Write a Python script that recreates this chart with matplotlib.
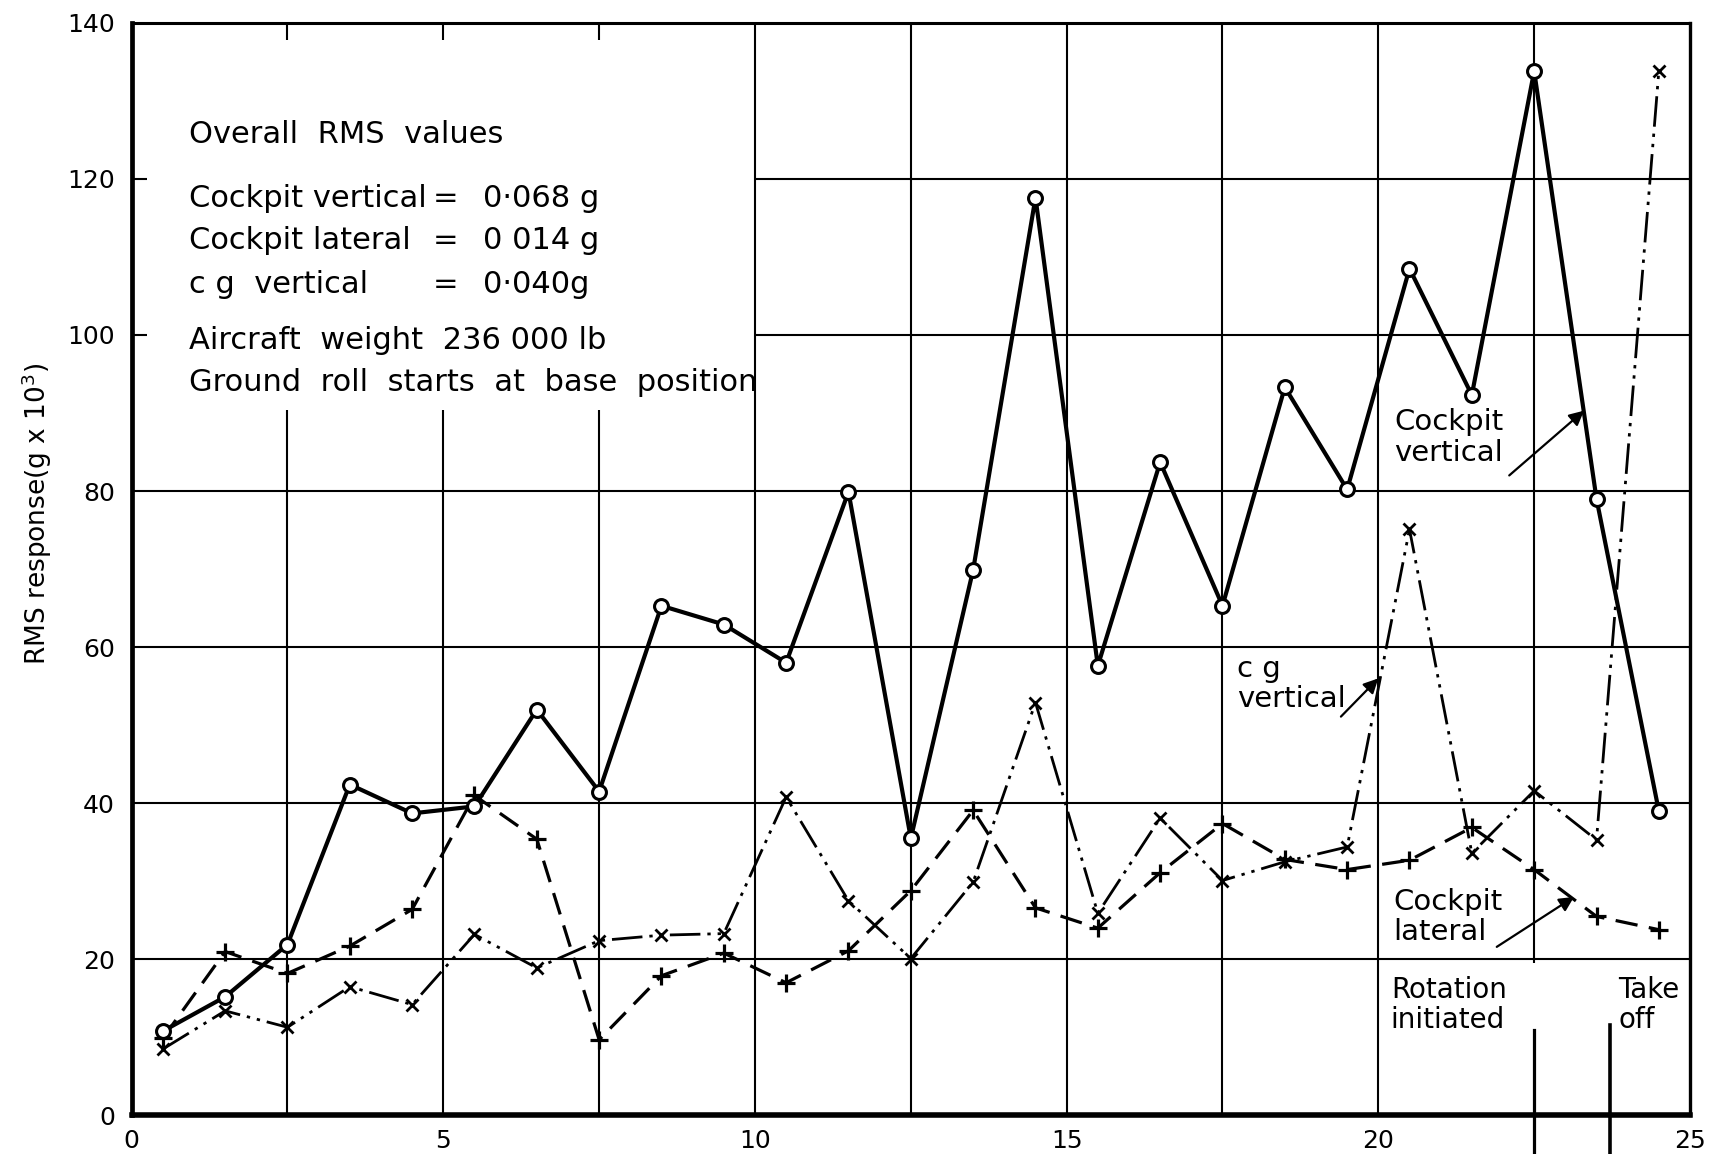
import matplotlib.pyplot as plt
import numpy as np

# ground roll positions (centre of each analysis segment)
position = [0.5, 1.5, 2.5, 3.5, 4.5, 5.5, 6.5, 7.5, 8.5, 9.5, 10.5, 11.5, 12.5,
            13.5, 14.5, 15.5, 16.5, 17.5, 18.5, 19.5, 20.5, 21.5, 22.5, 23.5, 24.5]

# RMS response, g x 10^3
cockpit_vertical = [10.8, 15.2, 21.9, 42.4, 38.7, 39.6, 52.0, 41.5, 65.3, 62.9, 58.0, 79.9, 35.5,
                    69.9, 117.6, 57.6, 83.7, 65.3, 93.3, 80.2, 108.5, 92.3, 133.8, 79.0, 39.0]
cockpit_lateral = [9.9, 21.0, 18.2, 21.7, 26.4, 41.0, 35.4, 9.7, 17.9, 20.8, 17.0, 21.1, 28.8,
                   39.1, 26.6, 24.0, 31.1, 37.4, 32.8, 31.5, 32.7, 36.9, 31.5, 25.5, 23.8]
cg_vertical = [8.5, 13.4, 11.3, 16.5, 14.2, 23.2, 18.9, 22.4, 23.1, 23.3, 40.8, 27.5, 20.1,
               29.9, 52.9, 25.9, 38.1, 30.1, 32.5, 34.4, 75.1, 33.6, 41.6, 35.3, 133.8]

x_ticks = [0, 5, 10, 15, 20, 25]
y_ticks = [0, 20, 40, 60, 80, 100, 120, 140]

rotation_at = 22.5
takeoff_at = 23.72

summary_title = "Overall  RMS  values"
summary_names = ["Cockpit vertical", "Cockpit lateral", "c g  vertical"]
summary_values = ["0·068 g", "0 014 g", "0·040g"]
summary_notes = ["Aircraft  weight  236 000 lb", "Ground  roll  starts  at  base  position"]

FONT = "DejaVu Sans"
plt.rcParams['font.family'] = FONT

fig = plt.figure(figsize=(17.14, 11.54), dpi=100)
ax = fig.add_axes([0.0768, 0.0334, 0.9092, 0.9469])
ax.set_xlim(0, 25)
ax.set_ylim(0, 140)

# grid, drawn by hand so the note area in the top-left stays clear
gkw = dict(color='black', lw=1.5, zorder=1)
ax.vlines([2.5, 5, 7.5], 0, 90.4, **gkw)
ax.vlines([10, 12.5, 15, 17.5, 20], 0, 140, **gkw)
ax.vlines([22.5], 19.5, 140, **gkw)
ax.hlines([20, 40, 60, 80], 0, 25, **gkw)
ax.hlines([100, 120], 10, 25, **gkw)
# short inner ticks where the grid is left out
ax.vlines([2.5, 5, 7.5], 137.8, 140, **gkw)
ax.hlines([100, 120], 0, 0.25, **gkw)

# rotation / take-off markers running down past the axis
ax.plot([rotation_at, rotation_at], [11.0, -5.5], color='black', lw=2.3, clip_on=False, zorder=2)
ax.plot([takeoff_at, takeoff_at], [11.6, -5.5], color='black', lw=2.6, clip_on=False, zorder=2)

# series
ax.plot(position, cockpit_vertical, color='black', lw=3.0, marker='o', ms=10,
        mfc='white', mec='black', mew=2.2, zorder=5)
lat, = ax.plot(position, cockpit_lateral, color='black', lw=2.3, marker='+', ms=13,
               mew=2.3, zorder=4)
lat.set_dashes([7, 3.6])
cg, = ax.plot(position, cg_vertical, color='black', lw=2.0, marker='x', ms=9,
              mew=2.0, zorder=4)
cg.set_dashes([11, 2.5, 1.2, 2.5, 1.2, 2.5])

# spines and ticks
for side, w in [('top', 2.2), ('right', 2.4), ('left', 3.4), ('bottom', 4.0)]:
    ax.spines[side].set_linewidth(w)
ax.set_xticks(x_ticks)
ax.set_yticks(y_ticks)
ax.tick_params(length=0, labelsize=18)
ax.tick_params(axis='x', pad=10)
ax.tick_params(axis='y', pad=12)

fig.text(0.0216, 0.555, r'RMS response(g x 10$^3$)', rotation=90,
         ha='center', va='center', fontsize=19)

# summary notes
tkw = dict(fontsize=22, va='baseline', ha='left')
ax.text(0.92, 124.6, summary_title, **tkw)
for name, val, yb in zip(summary_names, summary_values, [116.4, 111.0, 105.4]):
    ax.text(0.92, yb, name, **tkw)
    ax.text(5.03, yb, "=", fontsize=22, va='baseline', ha='center')
    ax.text(5.63, yb, val, **tkw)
ax.text(0.92, 98.2, summary_notes[0], **tkw)
ax.text(0.92, 92.8, summary_notes[1], **tkw)

# curve labels with arrows
akw = dict(arrowstyle='-|>', color='black', lw=1.6, mutation_scale=22, shrinkA=0, shrinkB=0)
lkw = dict(fontsize=21, ha='left', va='top', linespacing=1.1)
ax.text(20.26, 90.6, "Cockpit\nvertical", **lkw)
ax.annotate("", xy=(23.3, 90.3), xytext=(22.1, 82.0), arrowprops=akw)
ax.text(17.73, 59.0, "c g\nvertical", **lkw)
ax.annotate("", xy=(20.0, 56.0), xytext=(19.4, 51.1), arrowprops=akw)
ax.text(20.24, 29.2, "Cockpit\nlateral", **lkw)
ax.annotate("", xy=(23.14, 28.0), xytext=(21.9, 21.6), arrowprops=akw)

ax.text(20.2, 17.9, "Rotation\ninitiated", fontsize=20, ha='left', va='top', linespacing=1.1)
ax.text(23.85, 17.9, "Take\noff", fontsize=20, ha='left', va='top', linespacing=1.1)

fig.savefig("out.png", dpi=100)
